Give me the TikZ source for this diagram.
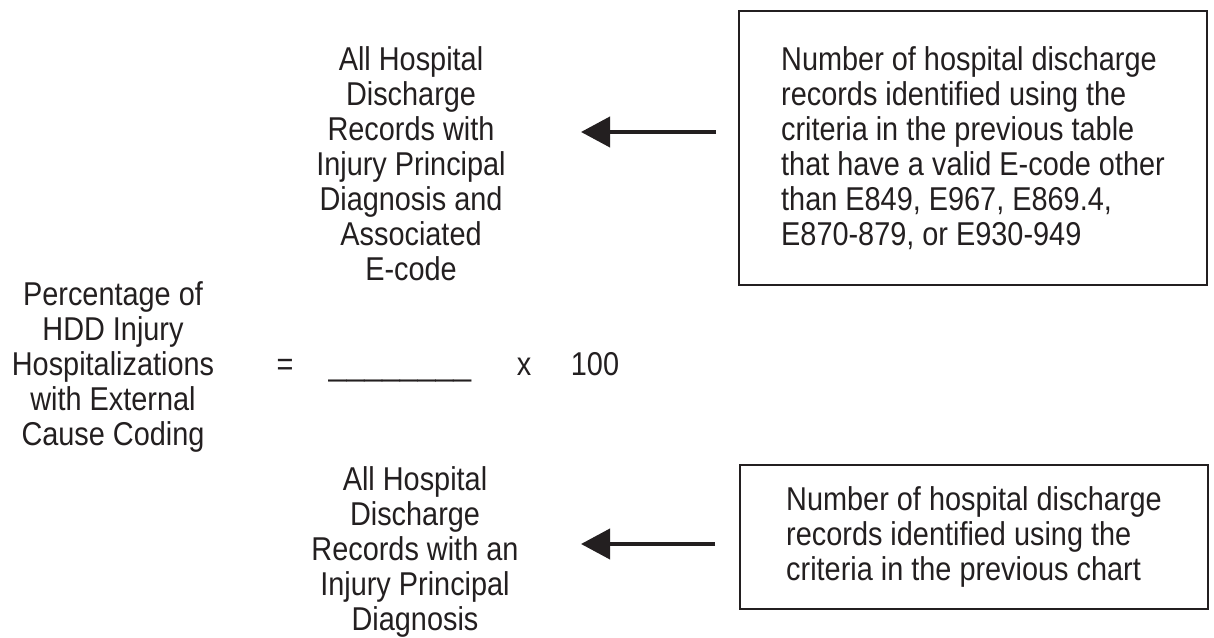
\documentclass[tikz,border=0pt]{standalone}
\usepackage{fontspec}
\setmainfont{Liberation Sans}[FakeStretch=0.875]
\usepackage{graphicx}
\usetikzlibrary{arrows.meta}
\definecolor{ink}{HTML}{231F20}
\begin{document}
\begin{tikzpicture}[x=1pt,y=1pt,
  txt/.style={font=\fontsize{33}{35}\selectfont, text=ink, inner sep=0pt},
  ctxt/.style={txt, align=center},
  boxnode/.style={txt, align=left, draw=ink, line width=2pt},
  arr/.style={draw=ink, line width=4pt, -{Triangle[length=29pt,width=30pt]}}]
\useasboundingbox (0,0) rectangle (1214,637);
% numerator / denominator / left-hand side
\node[ctxt, anchor=north] (num) at (411,591) {All Hospital\\Discharge\\Records with\\Injury Principal\\Diagnosis and\\Associated\\E-code};
\node[ctxt, anchor=north] (lhs) at (113,356) {Percentage of\\HDD Injury\\Hospitalizations\\with External\\Cause Coding};
\node[ctxt, anchor=north] (den) at (415,171) {All Hospital\\Discharge\\Records with an\\Injury Principal\\Diagnosis};
% equation row
\node[txt, anchor=base] (eq) at (285,261) {=};
\node[txt, anchor=base] (bar) at (400,261) {\scalebox{1.11}[1]{\_\_\_\_\_\_\_\_}};
\node[txt, anchor=base] (times) at (524,261) {x};
\node[txt, anchor=base] (hundred) at (595,261) {100};
% boxes
\node[boxnode, minimum width=468pt, minimum height=274pt] (topbox) at (973,489) {Number of hospital discharge\\records identified using the\\criteria in the previous table\\that have a valid E-code other\\than E849, E967, E869.4,\\E870-879, or E930-949};
\node[boxnode, minimum width=468pt, minimum height=144pt] (botbox) at (974,100) {Number of hospital discharge\\records identified using the\\criteria in the previous chart};
% arrows
\draw[arr] ([shift={(-22,16)}]topbox.west) -- ++(-135,0);
\draw[arr] ([shift={(-24,-7)}]botbox.west) -- ++(-134,0);
\end{tikzpicture}
\end{document}
